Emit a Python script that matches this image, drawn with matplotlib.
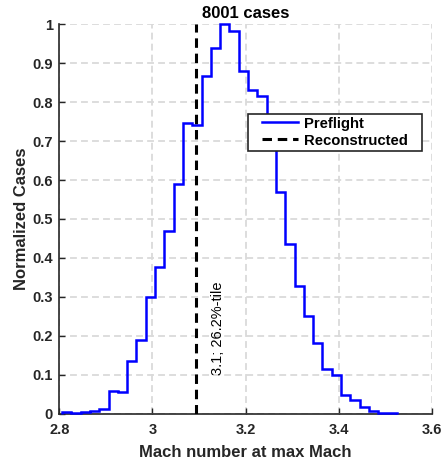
import matplotlib
matplotlib.use("Agg")
import matplotlib.pyplot as plt
import numpy as np
from matplotlib.path import Path

plt.rcParams['font.family'] = ['Liberation Sans', 'DejaVu Sans']

# ---- data ----
bin_min = 2.806
bin_max = 3.525
preflight_norm = [0.004, 0.002, 0.004, 0.007, 0.013, 0.060, 0.056, 0.135,
                  0.191, 0.300, 0.377, 0.468, 0.589, 0.745, 0.742, 0.867,
                  0.939, 1.000, 0.982, 0.880, 0.831, 0.816, 0.700, 0.570,
                  0.436, 0.327, 0.252, 0.181, 0.116, 0.101, 0.048, 0.036,
                  0.018, 0.007, 0.002, 0.002]
recon_value = 3.094
recon_label = "3.1; 26.2%-tile"
n_cases = 8001
x_ticks = [2.8, 3.0, 3.2, 3.4, 3.6]
x_ticklabels = ['2.8', '3', '3.2', '3.4', '3.6']
y_ticks = [0, 0.1, 0.2, 0.3, 0.4, 0.5, 0.6, 0.7, 0.8, 0.9, 1.0]
y_ticklabels = ['0', '0.1', '0.2', '0.3', '0.4', '0.5', '0.6', '0.7', '0.8', '0.9', '1']

edges = np.linspace(bin_min, bin_max, len(preflight_norm) + 1)

dark = '#262626'
fig = plt.figure(figsize=(4.43, 4.67), dpi=100)
ax = fig.add_axes([0.1339, 0.1135, 0.8406, 0.8351])

ax.stairs(preflight_norm, edges, baseline=0, color='blue', lw=1.8,
          label='Preflight', zorder=3, clip_on=False)
ax.plot([recon_value, recon_value], [0, 1], color='black', lw=2.2,
        linestyle=(0, (3.1, 1.9)), label='Reconstructed', zorder=3)
ax.text(recon_value + 0.046, 0.10, recon_label, rotation=90, ha='center',
        va='bottom', fontsize=10.5, color='black')

ax.set_xlim(2.8, 3.6)
ax.set_ylim(0, 1)
ax.set_xticks(x_ticks)
ax.set_xticklabels(x_ticklabels)
ax.set_yticks(y_ticks)
ax.set_yticklabels(y_ticklabels)

ax.grid(True, color='#dadada', lw=1.3, linestyle=(0, (3.8, 2.3)))
ax.set_axisbelow(True)

for s in ['top', 'right']:
    ax.spines[s].set_visible(False)
for s in ['left', 'bottom']:
    ax.spines[s].set_color(dark)
    ax.spines[s].set_linewidth(1.2)

ax.tick_params(direction='in', length=4, width=1, color=dark,
               labelcolor=dark, labelsize=10.5)
ax.tick_params(axis='x', pad=6.5)
ax.tick_params(axis='y', pad=4.7)
for lab in ax.get_xticklabels() + ax.get_yticklabels():
    lab.set_fontweight('bold')

ax.set_xlabel('Mach number at max Mach', fontsize=12, fontweight='bold',
              color=dark, labelpad=5.5)
ax.set_ylabel('Normalized Cases', fontsize=12, fontweight='bold',
              color=dark, labelpad=2.5)
ax.set_title(f'{n_cases} cases', fontsize=12, fontweight='bold',
             color='black', pad=4.1)


def hpad_box(x0, y0, width, height, mutation_size):
    px = 0.75 * mutation_size
    return Path([(x0 - px, y0), (x0 + width + px, y0),
                 (x0 + width + px, y0 + height), (x0 - px, y0 + height),
                 (x0 - px, y0)], closed=True)


leg = ax.legend(loc='upper right', bbox_to_anchor=(0.944, 0.770),
                borderaxespad=0, prop={'weight': 'bold', 'size': 10.7},
                handlelength=2.4, handletextpad=0.4, labelspacing=0.2,
                borderpad=0.2, fancybox=False, framealpha=1,
                edgecolor=dark)
leg.get_frame().set_linewidth(1.2)
leg.get_frame().set_boxstyle(hpad_box)
for t in leg.get_texts():
    t.set_color('black')

fig.savefig('out.png', dpi=100)
